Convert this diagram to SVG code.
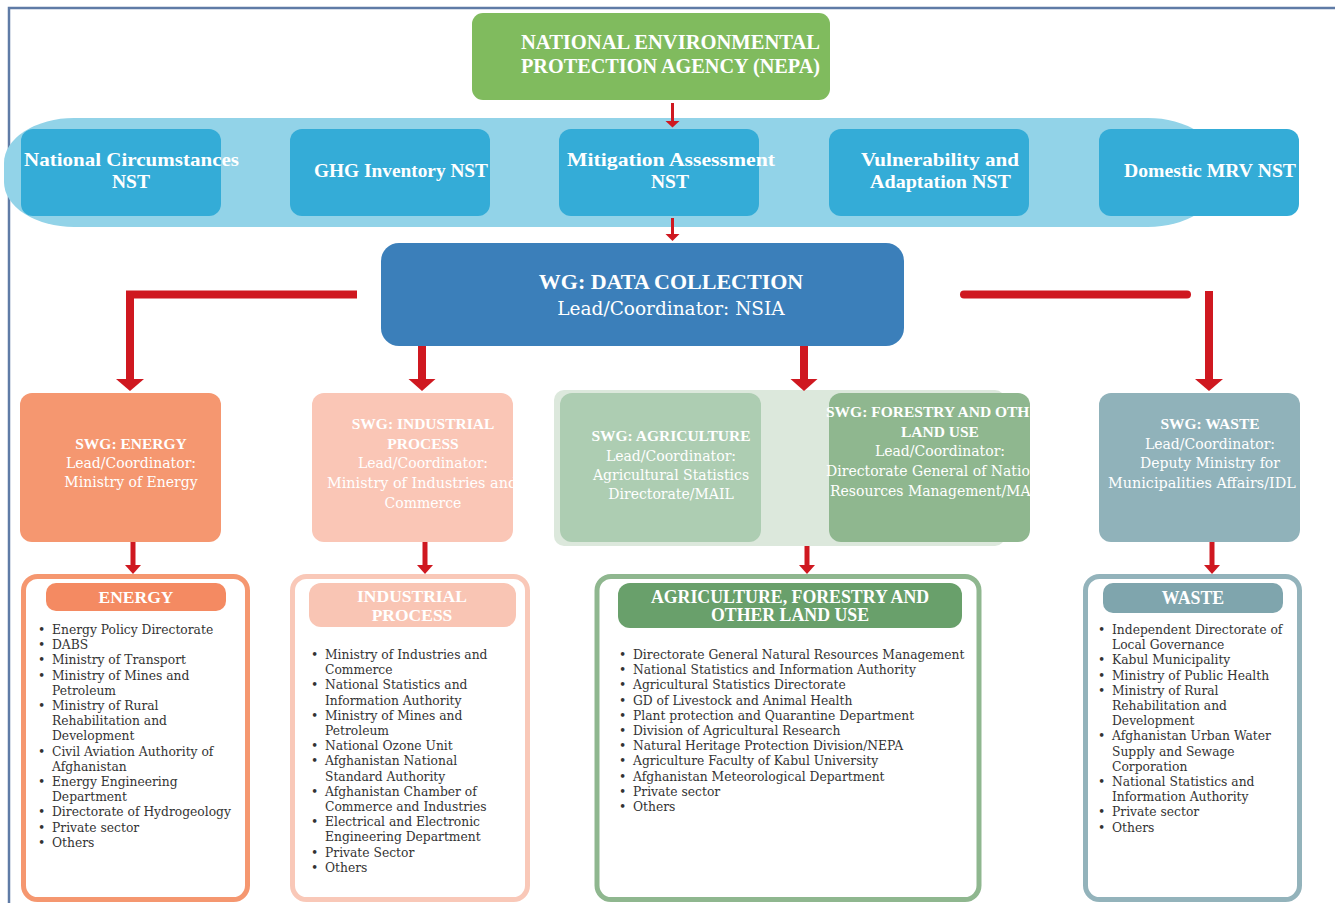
<svg xmlns="http://www.w3.org/2000/svg" width="1335" height="903" viewBox="0 0 1335 903">
<defs>
<style>
.hd{font-family:"Liberation Serif","Times New Roman",serif;font-weight:bold;fill:#fff}
.tx{font-family:"DejaVu Serif",serif;fill:#fff}
.li{font-family:"DejaVu Serif",serif;font-size:12.3px;fill:#333}
.ah{fill:#cf1820}
.conn{stroke:#cf1820;fill:none}
.nst{fill:#34acd7}
</style>
<clipPath id="clipInd"><rect x="290" y="393" width="223" height="149"/></clipPath>
<clipPath id="clipFor"><rect x="800" y="393" width="230" height="149"/></clipPath>
<clipPath id="clipWaste"><rect x="1090" y="393" width="210" height="149"/></clipPath>
</defs>

<!-- page frame -->
<path d="M9,903 V8 H1335" fill="none" stroke="#5f7ba6" stroke-width="2.5"/>

<!-- top agency -->
<g id="nepa">
<rect x="472" y="13" width="358" height="87" rx="11" fill="#80bb5e"/>
<text class="hd" font-size="20" x="521" y="49" textLength="299" lengthAdjust="spacingAndGlyphs">NATIONAL ENVIRONMENTAL</text>
<text class="hd" font-size="20" x="521" y="73" textLength="299" lengthAdjust="spacingAndGlyphs">PROTECTION AGENCY (NEPA)</text>
</g>

<!-- national sub-teams band -->
<g id="nst-band">
<rect x="4" y="118" width="1214" height="109" rx="70" ry="45" fill="#92d3e8"/>
</g>
<g id="nst-national-circumstances">
<rect class="nst" x="21" y="129" width="200" height="87" rx="12"/>
<text class="hd" font-size="19.5" x="24" y="166" textLength="215" lengthAdjust="spacingAndGlyphs">National Circumstances</text>
<text class="hd" font-size="19.5" text-anchor="middle" x="131" y="188">NST</text>
</g>
<g id="nst-ghg">
<rect class="nst" x="290" y="129" width="200" height="87" rx="12"/>
<text class="hd" font-size="19.5" x="314" y="177" textLength="174" lengthAdjust="spacingAndGlyphs">GHG Inventory NST</text>
</g>
<g id="nst-mitigation">
<rect class="nst" x="559" y="129" width="200" height="87" rx="12"/>
<text class="hd" font-size="19.5" x="567" y="166" textLength="208" lengthAdjust="spacingAndGlyphs">Mitigation Assessment</text>
<text class="hd" font-size="19.5" text-anchor="middle" x="670" y="188">NST</text>
</g>
<g id="nst-vulnerability">
<rect class="nst" x="829" y="129" width="200" height="87" rx="12"/>
<text class="hd" font-size="19.5" x="861" y="166" textLength="158" lengthAdjust="spacingAndGlyphs">Vulnerability and</text>
<text class="hd" font-size="19.5" x="870" y="188" textLength="141" lengthAdjust="spacingAndGlyphs">Adaptation NST</text>
</g>
<g id="nst-mrv">
<rect class="nst" x="1099" y="129" width="200" height="87" rx="12"/>
<text class="hd" font-size="19.5" x="1124" y="177" textLength="172" lengthAdjust="spacingAndGlyphs">Domestic MRV NST</text>
</g>

<!-- working group -->
<g id="wg-data">
<rect x="381" y="243" width="523" height="103" rx="18" fill="#3b7fba"/>
<text class="hd" font-size="22" text-anchor="middle" x="671" y="289">WG: DATA COLLECTION</text>
<text class="tx" font-size="18.5" text-anchor="middle" x="671" y="315">Lead/Coordinator: NSIA</text>
</g>

<!-- sub-working groups -->
<g id="swg-energy">
<rect x="20" y="393" width="201" height="149" rx="12" fill="#f59770"/>
<text class="hd" font-size="15.5" text-anchor="middle" x="131" y="449">SWG: ENERGY</text>
<text class="tx" font-size="14" text-anchor="middle" x="131" y="468">Lead/Coordinator:</text>
<text class="tx" font-size="14" text-anchor="middle" x="131" y="487">Ministry of Energy</text>
</g>
<g id="swg-industrial">
<rect x="312" y="393" width="201" height="149" rx="12" fill="#fac6b6"/>
<g clip-path="url(#clipInd)">
<text class="hd" font-size="15.5" text-anchor="middle" x="423" y="429">SWG: INDUSTRIAL</text>
<text class="hd" font-size="15.5" text-anchor="middle" x="423" y="449">PROCESS</text>
<text class="tx" font-size="14" text-anchor="middle" x="423" y="468">Lead/Coordinator:</text>
<text class="tx" font-size="14.4" x="327" y="488">Ministry of Industries and</text>
<text class="tx" font-size="14" text-anchor="middle" x="423" y="508">Commerce</text>
</g>
</g>
<g id="swg-afolu-group">
<rect x="554" y="390" width="451" height="156" rx="10" fill="#dce8dc"/>
</g>
<g id="swg-agriculture">
<rect x="560" y="393" width="201" height="149" rx="12" fill="#adcdb2"/>
<text class="hd" font-size="15.5" text-anchor="middle" x="671" y="441">SWG: AGRICULTURE</text>
<text class="tx" font-size="14" text-anchor="middle" x="671" y="461">Lead/Coordinator:</text>
<text class="tx" font-size="14" text-anchor="middle" x="671" y="480">Agricultural Statistics</text>
<text class="tx" font-size="14" text-anchor="middle" x="671" y="499">Directorate/MAIL</text>
</g>
<g id="swg-forestry">
<rect x="829" y="393" width="201" height="149" rx="12" fill="#8fb78f"/>
<g clip-path="url(#clipFor)">
<text class="hd" font-size="15.5" x="826" y="417">SWG: FORESTRY AND OTH</text>
<text class="hd" font-size="15.5" text-anchor="middle" x="940" y="437">LAND USE</text>
<text class="tx" font-size="14" text-anchor="middle" x="940" y="456">Lead/Coordinator:</text>
<text class="tx" font-size="14" x="826" y="476">Directorate General of Natio</text>
<text class="tx" font-size="14" x="830" y="496">Resources Management/MA</text>
</g>
</g>
<g id="swg-waste">
<rect x="1099" y="393" width="201" height="149" rx="12" fill="#90b2ba"/>
<g clip-path="url(#clipWaste)">
<text class="hd" font-size="15.5" text-anchor="middle" x="1210" y="429">SWG: WASTE</text>
<text class="tx" font-size="14" text-anchor="middle" x="1210" y="449">Lead/Coordinator:</text>
<text class="tx" font-size="14" text-anchor="middle" x="1210" y="468">Deputy Ministry for</text>
<text class="tx" font-size="14.4" x="1108" y="488">Municipalities Affairs/IDL</text>
</g>
</g>

<!-- sector member lists -->
<g id="list-energy">
<rect x="23.5" y="576.5" width="224" height="323" rx="14" fill="#fff" stroke="#f59770" stroke-width="5"/>
<rect x="46" y="583" width="180" height="28" rx="10" fill="#f48a62"/>
<text class="hd" font-size="17.5" text-anchor="middle" x="136" y="603">ENERGY</text>
<text class="li"><tspan x="38" y="634">•</tspan><tspan x="38" y="649.2">•</tspan><tspan x="38" y="664.4">•</tspan><tspan x="38" y="679.6">•</tspan><tspan x="38" y="710">•</tspan><tspan x="38" y="755.6">•</tspan><tspan x="38" y="786">•</tspan><tspan x="38" y="816.4">•</tspan><tspan x="38" y="831.6">•</tspan><tspan x="38" y="846.8">•</tspan></text>
<text class="li"><tspan x="52" y="634">Energy Policy Directorate</tspan><tspan x="52" y="649.2">DABS</tspan><tspan x="52" y="664.4">Ministry of Transport</tspan><tspan x="52" y="679.6">Ministry of Mines and</tspan><tspan x="52" y="694.8">Petroleum</tspan><tspan x="52" y="710">Ministry of Rural</tspan><tspan x="52" y="725.2">Rehabilitation and</tspan><tspan x="52" y="740.4">Development</tspan><tspan x="52" y="755.6">Civil Aviation Authority of</tspan><tspan x="52" y="770.8">Afghanistan</tspan><tspan x="52" y="786">Energy Engineering</tspan><tspan x="52" y="801.2">Department</tspan><tspan x="52" y="816.4">Directorate of Hydrogeology</tspan><tspan x="52" y="831.6">Private sector</tspan><tspan x="52" y="846.8">Others</tspan></text>
</g>
<g id="list-industrial">
<rect x="292.5" y="576.5" width="235" height="323" rx="14" fill="#fff" stroke="#f9c8b8" stroke-width="5"/>
<rect x="309" y="583" width="207" height="44" rx="12" fill="#f9c5b4"/>
<text class="hd" font-size="17.5" text-anchor="middle" x="412" y="602">INDUSTRIAL</text>
<text class="hd" font-size="17.5" text-anchor="middle" x="412" y="621">PROCESS</text>
<text class="li"><tspan x="311" y="659">•</tspan><tspan x="311" y="689.4">•</tspan><tspan x="311" y="719.8">•</tspan><tspan x="311" y="750.2">•</tspan><tspan x="311" y="765.4">•</tspan><tspan x="311" y="795.8">•</tspan><tspan x="311" y="826.2">•</tspan><tspan x="311" y="856.6">•</tspan><tspan x="311" y="871.8">•</tspan></text>
<text class="li"><tspan x="325" y="659">Ministry of Industries and</tspan><tspan x="325" y="674.2">Commerce</tspan><tspan x="325" y="689.4">National Statistics and</tspan><tspan x="325" y="704.6">Information Authority</tspan><tspan x="325" y="719.8">Ministry of Mines and</tspan><tspan x="325" y="735">Petroleum</tspan><tspan x="325" y="750.2">National Ozone Unit</tspan><tspan x="325" y="765.4">Afghanistan National</tspan><tspan x="325" y="780.6">Standard Authority</tspan><tspan x="325" y="795.8">Afghanistan Chamber of</tspan><tspan x="325" y="811">Commerce and Industries</tspan><tspan x="325" y="826.2">Electrical and Electronic</tspan><tspan x="325" y="841.4">Engineering Department</tspan><tspan x="325" y="856.6">Private Sector</tspan><tspan x="325" y="871.8">Others</tspan></text>
</g>
<g id="list-afolu">
<rect x="597" y="576.5" width="382" height="323" rx="14" fill="#fff" stroke="#8fb78f" stroke-width="5"/>
<rect x="618" y="583" width="344" height="45" rx="12" fill="#69a06b"/>
<text class="hd" font-size="17.8" text-anchor="middle" x="790" y="603">AGRICULTURE, FORESTRY AND</text>
<text class="hd" font-size="17.8" text-anchor="middle" x="790" y="621">OTHER LAND USE</text>
<text class="li"><tspan x="619" y="659">•</tspan><tspan x="619" y="674.2">•</tspan><tspan x="619" y="689.4">•</tspan><tspan x="619" y="704.6">•</tspan><tspan x="619" y="719.8">•</tspan><tspan x="619" y="735">•</tspan><tspan x="619" y="750.2">•</tspan><tspan x="619" y="765.4">•</tspan><tspan x="619" y="780.6">•</tspan><tspan x="619" y="795.8">•</tspan><tspan x="619" y="811">•</tspan></text>
<text class="li"><tspan x="633" y="659">Directorate General Natural Resources Management</tspan><tspan x="633" y="674.2">National Statistics and Information Authority</tspan><tspan x="633" y="689.4">Agricultural Statistics Directorate</tspan><tspan x="633" y="704.6">GD of Livestock and Animal Health</tspan><tspan x="633" y="719.8">Plant protection and Quarantine Department</tspan><tspan x="633" y="735">Division of Agricultural Research</tspan><tspan x="633" y="750.2">Natural Heritage Protection Division/NEPA</tspan><tspan x="633" y="765.4">Agriculture Faculty of Kabul University</tspan><tspan x="633" y="780.6">Afghanistan Meteorological Department</tspan><tspan x="633" y="795.8">Private sector</tspan><tspan x="633" y="811">Others</tspan></text>
</g>
<g id="list-waste">
<rect x="1085.5" y="576.5" width="214" height="323" rx="14" fill="#fff" stroke="#93b3bb" stroke-width="5"/>
<rect x="1103" y="583" width="180" height="30" rx="10" fill="#7fa5ad"/>
<text class="hd" font-size="17.8" text-anchor="middle" x="1193" y="604">WASTE</text>
<text class="li"><tspan x="1098" y="634">•</tspan><tspan x="1098" y="664.4">•</tspan><tspan x="1098" y="679.6">•</tspan><tspan x="1098" y="694.8">•</tspan><tspan x="1098" y="740.4">•</tspan><tspan x="1098" y="786">•</tspan><tspan x="1098" y="816.4">•</tspan><tspan x="1098" y="831.6">•</tspan></text>
<text class="li"><tspan x="1112" y="634">Independent Directorate of</tspan><tspan x="1112" y="649.2">Local Governance</tspan><tspan x="1112" y="664.4">Kabul Municipality</tspan><tspan x="1112" y="679.6">Ministry of Public Health</tspan><tspan x="1112" y="694.8">Ministry of Rural</tspan><tspan x="1112" y="710">Rehabilitation and</tspan><tspan x="1112" y="725.2">Development</tspan><tspan x="1112" y="740.4">Afghanistan Urban Water</tspan><tspan x="1112" y="755.6">Supply and Sewage</tspan><tspan x="1112" y="770.8">Corporation</tspan><tspan x="1112" y="786">National Statistics and</tspan><tspan x="1112" y="801.2">Information Authority</tspan><tspan x="1112" y="816.4">Private sector</tspan><tspan x="1112" y="831.6">Others</tspan></text>
</g>

<!-- connectors -->
<g id="connectors">
<path class="conn" stroke-width="3" d="M672.5,103 V122"/>
<polygon class="ah" points="665.5,121 679.5,121 672.5,127.5"/>
<path class="conn" stroke-width="3" d="M672.5,218 V235"/>
<polygon class="ah" points="665.5,234 679.5,234 672.5,241"/>

<path class="conn" stroke-width="8" stroke-linejoin="miter" d="M357,294.5 H130 V381"/>
<polygon class="ah" points="116,379 144,379 130,391"/>
<path class="conn" stroke-width="8" d="M422,346 V381"/>
<polygon class="ah" points="408.5,379 435.5,379 422,391"/>
<path class="conn" stroke-width="8" d="M804,346 V381"/>
<polygon class="ah" points="790.5,379 817.5,379 804,391"/>
<path class="conn" stroke-width="8" stroke-linecap="round" d="M964,294.5 H1187"/>
<path class="conn" stroke-width="8" d="M1209,291 V381"/>
<polygon class="ah" points="1195,379 1223,379 1209,391"/>

<path class="conn" stroke-width="5" d="M133,542 V566"/>
<polygon class="ah" points="125,565 141,565 133,574"/>
<path class="conn" stroke-width="5" d="M425,542 V566"/>
<polygon class="ah" points="417,565 433,565 425,574"/>
<path class="conn" stroke-width="5" d="M807,546 V566"/>
<polygon class="ah" points="799,565 815,565 807,574"/>
<path class="conn" stroke-width="5" d="M1212,542 V566"/>
<polygon class="ah" points="1204,565 1220,565 1212,574"/>
</g>
</svg>
